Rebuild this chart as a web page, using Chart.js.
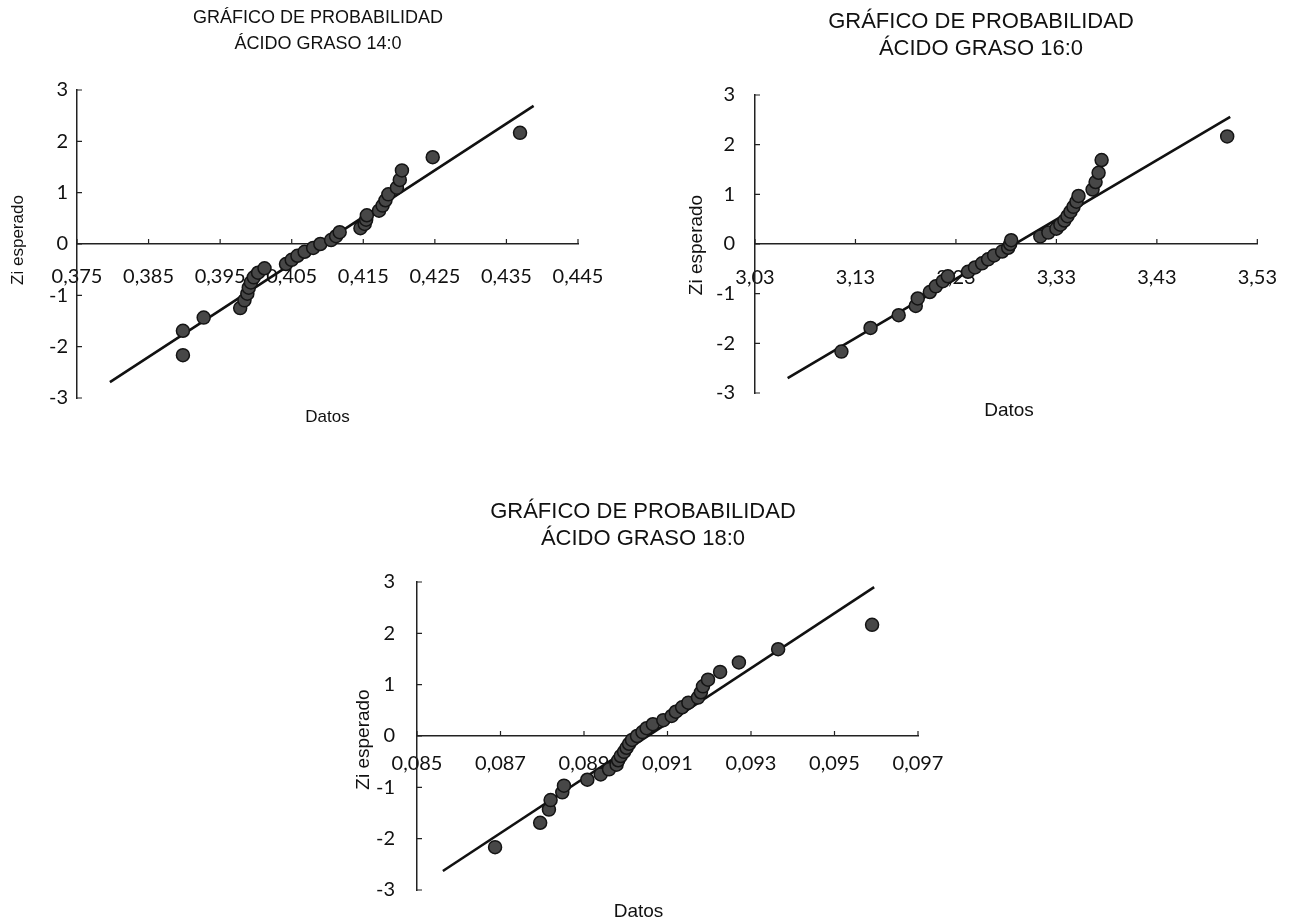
<!DOCTYPE html>
<html><head><meta charset="utf-8">
<script src="https://cdn.jsdelivr.net/npm/chart.js@4.4.0/dist/chart.umd.min.js"></script>
<style>
html,body{margin:0;padding:0;background:#fff;width:1299px;height:924px;overflow:hidden;}
.box{position:absolute;}
canvas{display:block;}
</style></head><body>
<div class="box" style="left:0px;top:0px;"><canvas id="c1" width="650" height="440"></canvas></div>
<div class="box" style="left:650px;top:0px;"><canvas id="c2" width="649" height="440"></canvas></div>
<div class="box" style="left:320px;top:480px;"><canvas id="c3" width="640" height="444"></canvas></div>
<script>
// ---- data ----
const ziEsperado = [-2.166, -1.691, -1.434, -1.248, -1.097, -0.967, -0.852, -0.748, -0.650, -0.559, -0.473, -0.390, -0.309, -0.230, -0.152, -0.076, 0, 0.076, 0.152, 0.230, 0.309, 0.390, 0.473, 0.559, 0.650, 0.748, 0.852, 0.967, 1.097, 1.248, 1.434, 1.691, 2.166];

const datos14 = [0.3898, 0.3898, 0.3927, 0.3978, 0.3984, 0.3988, 0.3990, 0.3993, 0.3997, 0.4003, 0.4012, 0.4042, 0.4050, 0.4058, 0.4068, 0.4080, 0.4090, 0.4105, 0.4112, 0.4117, 0.4146, 0.4152, 0.4154, 0.4155, 0.4172, 0.4177, 0.4181, 0.4185, 0.4197, 0.4201, 0.4204, 0.4247, 0.4369];
const datos16 = [3.116, 3.145, 3.173, 3.190, 3.192, 3.204, 3.210, 3.217, 3.222, 3.242, 3.249, 3.256, 3.262, 3.268, 3.276, 3.282, 3.284, 3.285, 3.314, 3.322, 3.330, 3.334, 3.338, 3.341, 3.344, 3.347, 3.350, 3.352, 3.366, 3.369, 3.372, 3.375, 3.500];
const datos18 = [0.08687, 0.08795, 0.08816, 0.08820, 0.08848, 0.08852, 0.08908, 0.08940, 0.08960, 0.08978, 0.08982, 0.08988, 0.08996, 0.09002, 0.09008, 0.09015, 0.09027, 0.09040, 0.09050, 0.09065, 0.09090, 0.09110, 0.09120, 0.09135, 0.09150, 0.09173, 0.09180, 0.09185, 0.09197, 0.09226, 0.09271, 0.09365, 0.09590];

const ajuste14X = [0.3796, 0.4388]; const ajuste14Z = [-2.69, 2.69];
const ajuste16X = [3.0625, 3.503]; const ajuste16Z = [-2.70, 2.56];
const ajuste18X = [0.08562, 0.09595]; const ajuste18Z = [-2.63, 2.90];

const ticks14 = [0.375, 0.385, 0.395, 0.405, 0.415, 0.425, 0.435, 0.445];
const ticks16 = [3.03, 3.13, 3.23, 3.33, 3.43, 3.53];
const ticks18 = [0.085, 0.087, 0.089, 0.091, 0.093, 0.095, 0.097];
const ticksZ = [-3, -2, -1, 0, 1, 2, 3];

const titulo14 = ['GRÁFICO DE PROBABILIDAD', 'ÁCIDO GRASO 14:0'];
const titulo16 = ['GRÁFICO DE PROBABILIDAD', 'ÁCIDO GRASO 16:0'];
const titulo18 = ['GRÁFICO DE PROBABILIDAD', 'ÁCIDO GRASO 18:0'];
const ejeX = 'Datos';
const ejeY = 'Zi esperado';

// ---- plugins ----
const textLayer = {
  id: 'textLayer',
  afterDraw(chart, args, opts) {
    const ctx = chart.ctx;
    (opts.items || []).forEach(it => {
      ctx.save();
      ctx.fillStyle = '#111';
      ctx.font = it.font;
      ctx.textAlign = 'center';
      ctx.textBaseline = 'middle';
      ctx.translate(it.x, it.y);
      if (it.rotate) ctx.rotate(it.rotate);
      ctx.fillText(it.text, 0, 0);
      ctx.restore();
    });
  }
};
const innerTicks = {
  id: 'innerTicks',
  afterDatasetsDraw(chart) {
    const ctx = chart.ctx, xs = chart.scales.x, ys = chart.scales.y;
    const y0 = ys.getPixelForValue(0);
    const left = chart.chartArea.left;
    ctx.save();
    ctx.strokeStyle = '#222';
    ctx.lineWidth = 1.2;
    ctx.beginPath();
    ys.ticks.forEach(t => { const p = ys.getPixelForValue(t.value); ctx.moveTo(left, p); ctx.lineTo(left + 5, p); });
    xs.ticks.forEach(t => { const p = xs.getPixelForValue(t.value); ctx.moveTo(p, y0); ctx.lineTo(p, y0 - 5); });
    ctx.stroke();
    ctx.restore();
  }
};

function makeChart(id, xs, zs, fitX, fitZ, xTicks, decimals, titleLines, L) {
  const pts = xs.map((v, i) => ({x: v, y: zs[i]}));
  const fit = fitX.map((v, i) => ({x: v, y: fitZ[i]}));
  const canvas = document.getElementById(id);
  const W = canvas.width, H = canvas.height;
  const cx = (L.left + (W - L.right)) / 2;
  const cy = (L.top + (H - L.bottom)) / 2;
  return new Chart(canvas, {
    type: 'scatter',
    data: {
      datasets: [
        {data: pts, pointRadius: L.r, pointHoverRadius: L.r, pointBackgroundColor: '#474747', pointBorderColor: '#141414', pointBorderWidth: 1.5, showLine: false},
        {data: fit, showLine: true, pointRadius: 0, borderColor: '#111', borderWidth: 2.6, fill: false}
      ]
    },
    options: {
      responsive: false,
      animation: false,
      events: [],
      layout: {padding: {left: 0, right: L.right, top: L.top, bottom: L.bottom}},
      plugins: {
        legend: {display: false},
        tooltip: {enabled: false},
        textLayer: {items: [
          {text: titleLines[0], x: L.titleX, y: L.titleY, font: L.titleFont},
          {text: titleLines[1], x: L.titleX, y: L.titleY + L.titleGap, font: L.titleFont},
          {text: ejeX, x: cx + L.datosDx, y: H - L.bottom + L.datosDy, font: L.axisFont},
          {text: ejeY, x: L.yTitleX, y: cy + L.yTitleDy, font: L.axisFont, rotate: -Math.PI / 2}
        ]}
      },
      scales: {
        x: {
          type: 'linear',
          position: {y: 0},
          min: xTicks[0], max: xTicks[xTicks.length - 1],
          afterBuildTicks: s => { s.ticks = xTicks.map(v => ({value: v})); },
          afterFit: s => { s.height = 0; },
          grid: {drawOnChartArea: false, drawTicks: false},
          border: {display: true, color: '#222', width: 1.5},
          ticks: {
            autoSkip: false, maxRotation: 0, minRotation: 0,
            padding: L.xPad, color: '#111',
            font: {family: 'Lato', size: 20},
            callback: v => Number(v).toFixed(decimals).replace('.', ',')
          }
        },
        y: {
          type: 'linear',
          position: 'left',
          min: -3, max: 3,
          afterBuildTicks: s => { s.ticks = ticksZ.map(v => ({value: v})); },
          afterFit: s => { s.width = L.left; },
          grid: {drawOnChartArea: false, drawTicks: false},
          border: {display: true, color: '#222', width: 1.5},
          ticks: {
            autoSkip: false,
            padding: L.yPad, color: '#111',
            font: {family: 'Lato', size: 20},
            callback: v => String(v)
          }
        }
      }
    },
    plugins: [textLayer, innerTicks]
  });
}

makeChart('c1', datos14, ziEsperado, ajuste14X, ajuste14Z, ticks14, 3, titulo14, {
  left: 77, right: 72, top: 90, bottom: 42, r: 6.5,
  titleX: 318, titleY: 18, titleGap: 26, titleFont: '18px "Liberation Sans", Arial, sans-serif',
  axisFont: '17px "Liberation Sans", Arial, sans-serif',
  datosDx: 0, datosDy: 19, yTitleX: 18, yTitleDy: -4, xPad: 21, yPad: 9
});
makeChart('c2', datos16, ziEsperado, ajuste16X, ajuste16Z, ticks16, 2, titulo16, {
  left: 105, right: 36, top: 95, bottom: 47, r: 6.5,
  titleX: 331, titleY: 22, titleGap: 27, titleFont: '22px "Liberation Sans", Arial, sans-serif',
  axisFont: '19px "Liberation Sans", Arial, sans-serif',
  datosDx: 0, datosDy: 18, yTitleX: 47, yTitleDy: 1, xPad: 22, yPad: 20
});
makeChart('c3', datos18, ziEsperado, ajuste18X, ajuste18Z, ticks18, 3, titulo18, {
  left: 97, right: 42, top: 102, bottom: 31, r: 6.5,
  titleX: 323, titleY: 32, titleGap: 27, titleFont: '22px "Liberation Sans", Arial, sans-serif',
  axisFont: '19px "Liberation Sans", Arial, sans-serif',
  datosDx: -29, datosDy: 19, yTitleX: 44, yTitleDy: 2, xPad: 16, yPad: 22
});
</script>
</body></html>
